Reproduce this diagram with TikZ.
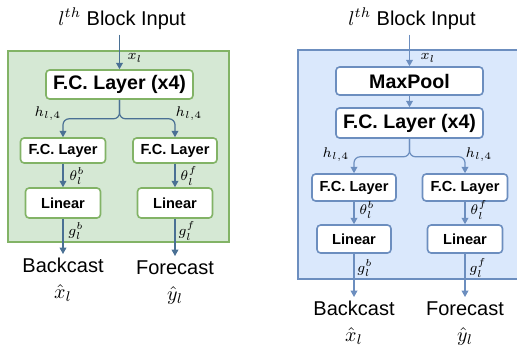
\documentclass[tikz,border=0pt]{standalone}
\usepackage{amsmath,amssymb}
\usepackage{fontspec}
\setsansfont{Liberation Sans}
\usetikzlibrary{arrows.meta,positioning,calc}

\definecolor{grnfill}{HTML}{D5E8D4}
\definecolor{grnline}{HTML}{82B366}
\definecolor{blufill}{HTML}{DAE8FC}
\definecolor{bluline}{HTML}{6C8EBF}
\definecolor{arrdark}{HTML}{4A7094}

\begin{document}
\begin{tikzpicture}[x=0.5pt, y=-0.5pt,
        every node/.style={font=\sffamily},
        boxG/.style={draw=grnline, fill=white, line width=0.8pt, rounded corners=1.8pt,
                     inner sep=0pt, font=\sffamily\bfseries},
        boxB/.style={boxG, draw=bluline},
        bigbox/.style={font=\sffamily\bfseries\fontsize{9.8}{11}\selectfont},
        smallbox/.style={font=\sffamily\bfseries\fontsize{7.3}{9}\selectfont},
        title/.style={anchor=base, inner sep=2.5pt, font=\sffamily\fontsize{10}{12}\selectfont},
        outlbl/.style={anchor=north, align=center, inner sep=2pt,
                       font=\sffamily\fontsize{10}{13}\selectfont},
        var/.style={inner sep=0pt, font=\fontsize{7}{8}\selectfont},
        arrG/.style={-{Triangle[length=3.2pt, width=3.4pt]}, draw=arrdark, line width=0.6pt},
        arrB/.style={arrG, draw=bluline},
    ]
    \useasboundingbox (0,0) rectangle (517,349);
    \clip (0,0) rectangle (517,349);

    % Panels
    \draw[fill=grnfill, draw=grnline, line width=0.8pt] (8,51) rectangle (229,242);
    \draw[fill=blufill, draw=bluline, line width=0.8pt] (298,50) rectangle (524,279);

    % ---------------- left block ----------------
    \node[title] (ttlL) at (122,25) {$l^{th}$ Block Input};
    \node[boxG, bigbox, minimum width=73.5pt, minimum height=14.5pt] (fcL) at (119.5,84.5) {F.C. Layer (x4)};

    \node[boxG, smallbox, minimum width=42.5pt, minimum height=12.5pt] (fcbL) at (63,150.5) {F.C. Layer};
    \node[boxG, smallbox, minimum width=42pt, minimum height=12.5pt] (fcfL) at (175,150.5) {F.C. Layer};
    \node[boxG, smallbox, minimum width=37.5pt, minimum height=15pt] (linbL) at (63,203) {Linear};
    \node[boxG, smallbox, minimum width=37.5pt, minimum height=15pt] (linfL) at (175,203) {Linear};

    \node[outlbl] (bcL) at (63,254) {Backcast\\$\hat{x}_l$};
    \node[outlbl] (fcsL) at (175,256) {Forecast\\$\hat{y}_l$};

    % Labels
    \node[var] (xL) at (135,58) {$x_l$};
    \node[var] (hbL) at (48,114) {$h_{l,4}$};
    \node[var] (hfL) at (189,114) {$h_{l,4}$};
    \node[var] (thbL) at (77,176) {$\theta_l^b$};
    \node[var] (thfL) at (189,176) {$\theta_l^f$};
    \node[var] (gbL) at (76,231) {$g_l^b$};
    \node[var] (gfL) at (187,231) {$g_l^f$};

    % Arrows
    \draw[arrG] (ttlL.south -| fcL.north) -- (fcL.north);
    \draw[arrG, rounded corners=3pt] (fcL.south) -- ++(0,19) -| (fcbL.north);
    \draw[arrG, rounded corners=3pt] (fcL.south) -- ++(0,19) -| (fcfL.north);
    \draw[arrG] (fcbL) -- (linbL);
    \draw[arrG] (fcfL) -- (linfL);
    \draw[arrG] (linbL) -- (bcL);
    \draw[arrG] (linfL) -- (fcsL);

    % ---------------- right block ----------------
    \node[title] (ttlR) at (412,25) {$l^{th}$ Block Input};
    \node[boxB, bigbox, minimum width=73.5pt, minimum height=14pt] (mpR) at (409.5,81) {MaxPool};
    \node[boxB, bigbox, minimum width=73.5pt, minimum height=15pt] (fcR) at (409.5,123) {F.C. Layer (x4)};

    \node[boxB, smallbox, minimum width=42pt, minimum height=13.5pt] (fcbR) at (354,187.5) {F.C. Layer};
    \node[boxB, smallbox, minimum width=42.5pt, minimum height=13.5pt] (fcfR) at (465,187.5) {F.C. Layer};
    \node[boxB, smallbox, minimum width=37pt, minimum height=14pt] (linbR) at (354,239) {Linear};
    \node[boxB, smallbox, minimum width=37.5pt, minimum height=14pt] (linfR) at (465,239) {Linear};

    \node[outlbl] (bcR) at (354,297) {Backcast\\$\hat{x}_l$};
    \node[outlbl] (fcsR) at (465,297) {Forecast\\$\hat{y}_l$};

    % Labels
    \node[var] (xR) at (428,58) {$x_l$};
    \node[var] (hbR) at (336,155) {$h_{l,4}$};
    \node[var] (hfR) at (479,155) {$h_{l,4}$};
    \node[var] (thbR) at (367,210) {$\theta_l^b$};
    \node[var] (thfR) at (479,210) {$\theta_l^f$};
    \node[var] (gbR) at (365,268) {$g_l^b$};
    \node[var] (gfR) at (478,268) {$g_l^f$};

    % Arrows
    \draw[arrB] (ttlR.south -| mpR.north) -- (mpR.north);
    \draw[arrB] (mpR) -- (fcR);
    \draw[arrB, rounded corners=3pt] (fcR.south) -- ++(0,18) -| (fcbR.north);
    \draw[arrB, rounded corners=3pt] (fcR.south) -- ++(0,18) -| (fcfR.north);
    \draw[arrB] (fcbR) -- (linbR);
    \draw[arrB] (fcfR) -- (linfR);
    \draw[arrB] (linbR) -- (bcR);
    \draw[arrB] (linfR) -- (fcsR);
\end{tikzpicture}
\end{document}
